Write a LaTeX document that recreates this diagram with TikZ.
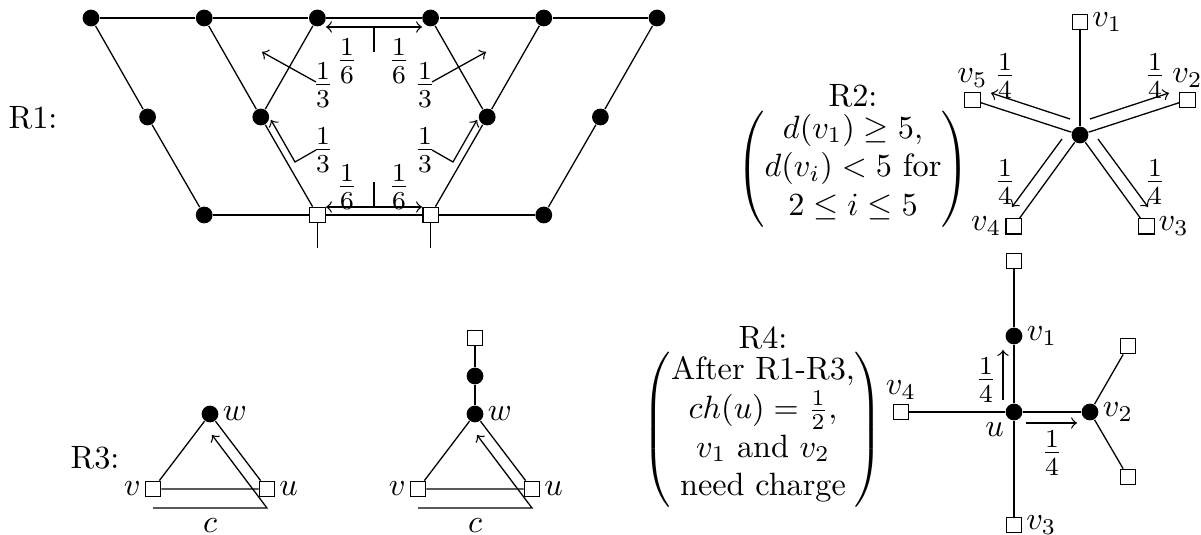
\documentclass[tikz,border=0pt]{standalone}
\usepackage{amsmath}
\usetikzlibrary{positioning}

\begin{document}
\begin{tikzpicture}[
    x=3.1pt, y=3.1pt,
    bvert/.style={circle, fill=black, minimum size=5.2pt, inner sep=0pt},
    wvert/.style={draw, fill=white, minimum size=4.8pt, inner sep=0pt},
    line/.style={black},
    arrow/.style={->, black},
    darrow/.style={<->, black},
    chg/.style={inner sep=1pt, font=\large},
    rulelab/.style={align=center, inner sep=0pt},
    every label/.style={inner sep=1pt}
]
    \useasboundingbox (0,0) rectangle (120.1,53.5);

    % ==========================================
    % R1: the two hexagons
    % ==========================================
    \node (r1) at (3.3,41.7) {R1:};
    \foreach \n/\x in {1/9.10, 2/20.42, 3/31.74, 4/43.06, 5/54.38, 6/65.70}
        \node[bvert] (t\n) at (\x,51.7) {};
    \foreach \n/\x in {1/14.76, 2/26.08, 3/48.72, 4/60.04}
        \node[bvert] (m\n) at (\x,41.8) {};
    \node[bvert] (b1) at (20.42,32.0) {};
    \node[wvert] (b2) at (31.74,32.0) {};
    \node[wvert] (b3) at (43.06,32.0) {};
    \node[bvert] (b4) at (54.38,32.0) {};
    \coordinate (s2) at (31.74,28.7);
    \coordinate (s3) at (43.06,28.7);

    \draw[line] (t1) -- (t2) -- (t3) -- (t4) -- (t5) -- (t6);
    \draw[line] (b1) -- (b2) -- (b3) -- (b4);
    \draw[line] (t1) -- (m1) -- (b1);
    \draw[line] (t2) -- (m2) -- (b2);
    \draw[line] (t3) -- (m2);
    \draw[line] (t4) -- (m3) -- (b3);
    \draw[line] (t5) -- (m3);
    \draw[line] (t6) -- (m4) -- (b4);
    \draw[line] (b2) -- (s2);
    \draw[line] (b3) -- (s3);

    % charges across the hexagon
    \draw[darrow] (32.6,50.8) -- (42.2,50.8);
    \draw[line] (37.4,50.8) -- (37.4,48.3);
    \node[chg] at (34.7,47.4) {$\frac{1}{6}$};
    \node[chg] at (39.9,47.4) {$\frac{1}{6}$};
    \draw[darrow] (32.6,32.8) -- (42.2,32.8);
    \draw[line] (37.4,32.8) -- (37.4,35.3);
    \node[chg] at (34.7,34.8) {$\frac{1}{6}$};
    \node[chg] at (39.9,34.8) {$\frac{1}{6}$};

    \node[chg] at (32.3,45.0) {$\frac{1}{3}$};
    \node[chg] at (42.5,45.0) {$\frac{1}{3}$};
    \draw[arrow] (31.6,45.3) -- (26.2,48.3);
    \draw[arrow] (43.2,45.3) -- (48.6,48.3);
    \node[chg] at (32.3,38.5) {$\frac{1}{3}$};
    \node[chg] at (42.5,38.5) {$\frac{1}{3}$};
    \draw[arrow] (31.6,38.5) -- (29.5,37.3) -- (27.1,41.5);
    \draw[arrow] (43.2,38.5) -- (45.3,37.3) -- (47.7,41.5);

    % ==========================================
    % R2: degree-5 vertex
    % ==========================================
    \node[rulelab] (r2) at (85.3,37.9) {R2:\\
        $\left(\begin{array}{@{}c@{}}
            d(v_1)\geq 5,\\
            d(v_i)<5\text{ for}\\
            2\leq i\leq 5
        \end{array}\right)$};
    \node[bvert] (hub_r2) at (108,40) {};
    \node[wvert, label=right:$v_1$] (v1_r2) at (108,51.3) {};
    \node[wvert, label=above:$v_2$] (v2_r2) at (118.75,43.5) {};
    \node[wvert, label=right:$v_3$] (v3_r2) at (114.64,30.86) {};
    \node[wvert, label=left:$v_4$] (v4_r2) at (101.36,30.86) {};
    \node[wvert, label=above:$v_5$] (v5_r2) at (97.25,43.5) {};
    \foreach \n in {1,...,5}
        \draw[line] (hub_r2) -- (v\n_r2);

    \draw[arrow] (109.0,41.6) -- (116.9,44.2);
    \draw[arrow] (107.0,41.6) -- (99.1,44.2);
    \draw[arrow] (106.2,39.6) -- (101.2,32.8);
    \draw[arrow] (109.8,39.6) -- (114.8,32.8);
    \node[chg] at (100.5,45.9) {$\frac{1}{4}$};
    \node[chg] at (115.5,45.9) {$\frac{1}{4}$};
    \node[chg] at (100.5,35.3) {$\frac{1}{4}$};
    \node[chg] at (115.5,35.3) {$\frac{1}{4}$};

    % ==========================================
    % R3: triangles
    % ==========================================
    \node (r3) at (9.5,7.7) {R3:};
    \node[bvert, label=right:$w$] (w_a) at (21.0,12.1) {};
    \node[wvert, label=left:$v$] (v_a) at (15.3,4.6) {};
    \node[wvert, label=right:$u$] (u_a) at (26.7,4.6) {};
    \draw[line] (v_a) -- (w_a) -- (u_a) -- (v_a);
    \draw[arrow] (15.3,2.7) -- (26.7,2.7) -- (21.2,10.0);
    \node at (21.0,0.9) {$c$};

    \node[bvert, label=right:$w$] (w_b) at (47.5,12.1) {};
    \node[wvert, label=left:$v$] (v_b) at (41.8,4.6) {};
    \node[wvert, label=right:$u$] (u_b) at (53.2,4.6) {};
    \node[bvert] (mid_b) at (47.5,15.9) {};
    \node[wvert] (top_b) at (47.5,19.7) {};
    \draw[line] (v_b) -- (w_b) -- (u_b) -- (v_b);
    \draw[line] (w_b) -- (mid_b) -- (top_b);
    \draw[arrow] (41.8,2.7) -- (53.2,2.7) -- (47.7,10.0);
    \node at (47.5,0.9) {$c$};

    % ==========================================
    % R4: degree-4 vertex u
    % ==========================================
    \node[rulelab] (r4) at (76.3,11.8) {R4:\\
        $\left(\begin{array}{@{}c@{}}
            \text{After R1-R3,}\\
            ch(u)=\frac{1}{2},\\
            v_1\text{ and }v_2\\
            \text{need charge}
        \end{array}\right)$};
    \node[bvert, label=below left:$u$] (u_r4) at (101.4,12.3) {};
    \node[bvert, label=right:$v_1$] (v1_r4) at (101.4,19.9) {};
    \node[wvert] (top_r4) at (101.4,27.4) {};
    \node[wvert, label=right:$v_3$] (v3_r4) at (101.4,1.0) {};
    \node[wvert, label=above:$v_4$] (v4_r4) at (90.1,12.3) {};
    \node[bvert, label=right:$v_2$] (v2_r4) at (109.0,12.3) {};
    \node[wvert] (up_r4) at (112.8,18.9) {};
    \node[wvert] (dn_r4) at (112.8,5.8) {};
    \draw[line] (top_r4) -- (v1_r4) -- (u_r4) -- (v3_r4);
    \draw[line] (v4_r4) -- (u_r4) -- (v2_r4);
    \draw[line] (v2_r4) -- (up_r4);
    \draw[line] (v2_r4) -- (dn_r4);

    \draw[arrow] (100.3,13.5) -- (100.3,18.5);
    \node[chg] at (98.6,15.5) {$\frac{1}{4}$};
    \draw[arrow] (102.6,11.2) -- (107.7,11.2);
    \node[chg] at (105.2,8.2) {$\frac{1}{4}$};
\end{tikzpicture}
\end{document}
